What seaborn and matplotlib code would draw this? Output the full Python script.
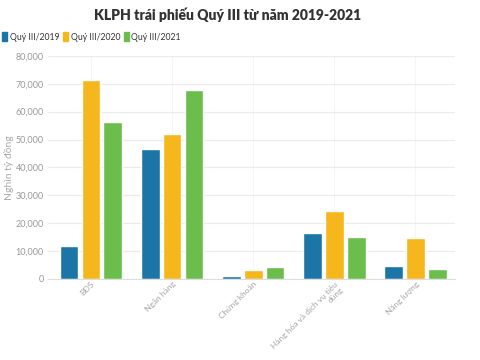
import numpy as np
import pandas as pd
import seaborn as sb
import matplotlib.pyplot as plt

categories = ['BĐS', 'Ngân hàng', 'Chứng khoán', 'Hàng hóa và dịch vụ tiêu\ndùng', 'Năng lượng']
series = ['Quý III/2019', 'Quý III/2020', 'Quý III/2021']
q3_2019 = [11800, 46600, 1100, 16400, 4600]
q3_2020 = [71300, 52000, 3200, 24500, 14600]
q3_2021 = [56300, 67700, 4200, 15000, 3500]
yticks = [0, 10000, 20000, 30000, 40000, 50000, 60000, 70000, 80000]
colors = ['#1b75a7', '#f5b71b', '#6bbd4c']

df = pd.DataFrame({
    'cat': categories * 3,
    'series': [series[0]] * 5 + [series[1]] * 5 + [series[2]] * 5,
    'value': q3_2019 + q3_2020 + q3_2021,
})

sb.set_style('white')
plt.rcParams['font.family'] = ['Lato', 'DejaVu Sans']

fig = plt.figure(figsize=(4.8, 3.6), dpi=100)
ax = fig.add_axes([0.1, 0.225, 0.848, 0.62])

sb.barplot(data=df, x='cat', y='value', hue='series', palette=colors,
           width=0.81, gap=0.14, ax=ax, legend=False, saturation=1)

ax.set_ylim(0, 80000)
ax.set_xlim(-0.53, 4.49)
ax.set_yticks(yticks)
ax.set_yticklabels([f'{v:,}' for v in yticks])
ax.tick_params(axis='y', length=0, labelsize=6.5, labelcolor='#999999', pad=3)
ax.tick_params(axis='x', length=0, labelsize=6, labelcolor='#a5a5a5', pad=1)
plt.setp(ax.get_xticklabels(), rotation=45, ha='right', rotation_mode='anchor',
         multialignment='right')
ax.grid(axis='y', color='#ebebeb', linewidth=0.8)
ax.grid(axis='x', color='#f4f4f4', linewidth=0.6)
ax.set_axisbelow(True)
for s in ['top', 'right', 'left']:
    ax.spines[s].set_visible(False)
ax.spines['bottom'].set_color('#dddddd')
ax.spines['bottom'].set_linewidth(0.8)
ax.set_xlabel('')
ax.set_ylabel('Nghìn tỷ đồng', fontsize=7.5, color='#aaaaaa')
ax.yaxis.set_label_coords(-0.083, 0.5)

fig.text(0.475, 0.96, 'KLPH trái phiếu Quý III từ năm 2019-2021', ha='center', va='center',
         fontsize=10, fontweight='heavy', color='#333333')

handles = [plt.Rectangle((0, 0), 1, 1, color=c) for c in colors]
fig.legend(handles, series, loc='center left', bbox_to_anchor=(-0.012, 0.897), ncol=3,
           frameon=False, fontsize=6.2, handlelength=0.6, handleheight=1.2,
           handletextpad=0.3, columnspacing=0.4, labelcolor='#333333')

plt.savefig('out.png', dpi=100)
